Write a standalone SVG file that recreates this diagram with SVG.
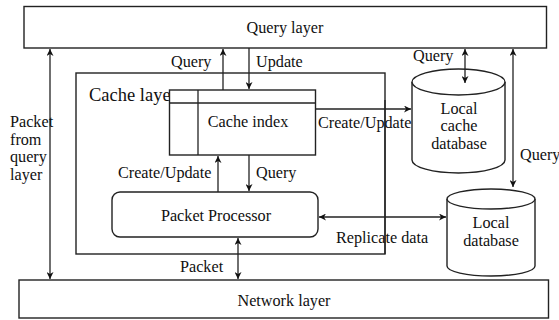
<svg xmlns="http://www.w3.org/2000/svg" width="559" height="320" viewBox="0 0 559 320" font-family="'Liberation Serif', 'DejaVu Serif', serif">
<style>
.box{fill:#fff;stroke:#222;stroke-width:1.4}
.ln{fill:none;stroke:#222;stroke-width:1.3}
text{font-family:'Liberation Serif','DejaVu Serif',serif;font-size:16.2px;fill:#111}
.mid{text-anchor:middle}
</style>
<defs>
<marker id="ah" viewBox="0 0 10 10" refX="10" refY="5" markerWidth="7" markerHeight="7" markerUnits="userSpaceOnUse" orient="auto-start-reverse">
<path d="M0,0 L10,5 L0,10 L3,5 Z" fill="#111"/>
</marker>
</defs>
<g id="query-layer">
<rect class="box" x="24" y="6.5" width="522.5" height="41.5"/>
<text class="mid" x="285" y="33">Query layer</text>
</g>
<g id="network-layer">
<rect class="box" x="19" y="280" width="529.5" height="38"/>
<text class="mid" x="284" y="306">Network layer</text>
</g>
<g id="cache-layer">
<rect class="box" x="76" y="73" width="309" height="181"/>
<text x="89" y="101" style="font-size:18.5px">Cache layer</text>
</g>
<g id="cache-index">
<rect class="box" x="169.5" y="90" width="146" height="65"/>
<line class="ln" x1="169.5" y1="103" x2="315.5" y2="103"/>
<line class="ln" x1="198" y1="90" x2="198" y2="155"/>
<text class="mid" x="248" y="127">Cache index</text>
</g>
<g id="packet-processor">
<rect class="box" x="112" y="192" width="206" height="45" rx="8"/>
<text class="mid" x="216" y="221">Packet Processor</text>
</g>
<g id="local-cache-database">
<path class="box" d="M412,82 L412,160 A46.5,13 0 0 0 505,160 L505,82"/>
<ellipse class="box" cx="458.5" cy="82" rx="46.5" ry="13"/>
<text class="mid" x="459" y="114">Local</text>
<text class="mid" x="459" y="131">cache</text>
<text class="mid" x="459" y="149">database</text>
</g>
<g id="local-database">
<path class="box" d="M447,199 L447,266 A44,10 0 0 0 535,266 L535,199"/>
<ellipse class="box" cx="491" cy="199" rx="44" ry="10"/>
<text class="mid" x="491" y="228">Local</text>
<text class="mid" x="491" y="246">database</text>
</g>
<g id="connectors">
<line class="ln" x1="50" y1="49" x2="50" y2="279" marker-start="url(#ah)" marker-end="url(#ah)"/>
<line class="ln" x1="223" y1="90" x2="223" y2="49" marker-end="url(#ah)"/>
<line class="ln" x1="249" y1="48" x2="249" y2="89" marker-end="url(#ah)"/>
<line class="ln" x1="315.5" y1="109" x2="411" y2="109" marker-end="url(#ah)"/>
<line class="ln" x1="465" y1="49" x2="465" y2="83" marker-start="url(#ah)" marker-end="url(#ah)"/>
<line class="ln" x1="513" y1="49" x2="513" y2="187" marker-start="url(#ah)" marker-end="url(#ah)"/>
<line class="ln" x1="218" y1="192" x2="218" y2="156" marker-end="url(#ah)"/>
<line class="ln" x1="249" y1="155" x2="249" y2="191" marker-end="url(#ah)"/>
<line class="ln" x1="238" y1="238" x2="238" y2="279" marker-start="url(#ah)" marker-end="url(#ah)"/>
<line class="ln" x1="319" y1="217" x2="446" y2="217" marker-start="url(#ah)" marker-end="url(#ah)"/>
<text x="10" y="127">Packet</text>
<text x="10" y="145">from</text>
<text x="10" y="162">query</text>
<text x="10" y="180">layer</text>
<text x="171" y="67">Query</text>
<text x="256" y="67">Update</text>
<text x="318" y="128">Create/Update</text>
<text x="413" y="61">Query</text>
<text x="520" y="160">Query</text>
<text x="118" y="178">Create/Update</text>
<text x="256" y="178">Query</text>
<text x="336" y="243">Replicate data</text>
<text x="180" y="272">Packet</text>
</g>
<line class="ln" x1="385" y1="100" x2="385" y2="254"/>
</svg>
